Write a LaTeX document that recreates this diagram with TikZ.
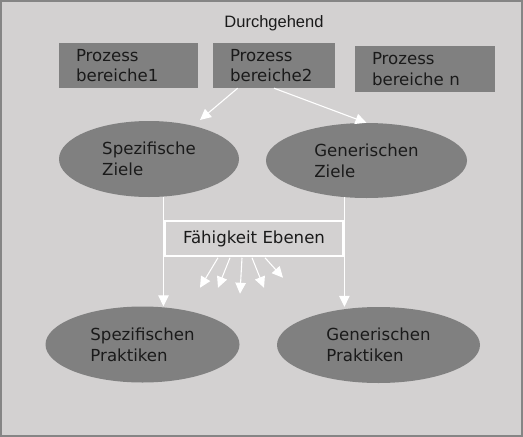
\documentclass[tikz,border=0pt]{standalone}
\usepackage{fontspec}
\setmainfont{DejaVu Sans}
\newfontfamily\arialf{Liberation Sans}
\usetikzlibrary{shapes.geometric,arrows.meta,calc}
\definecolor{bg}{HTML}{D3D1D1}
\definecolor{boxg}{HTML}{808080}
\definecolor{frameg}{HTML}{858585}
\definecolor{txt}{HTML}{1A1A1A}
\begin{document}
\begin{tikzpicture}[x=1pt,y=-1pt,
  pbox/.style={rectangle,fill=boxg,inner sep=0pt,inner xsep=17pt,align=left,text=txt,font=\fontsize{16.6}{20.5}\selectfont},
  oval/.style={ellipse,fill=boxg,inner sep=0pt,align=left,text=txt,font=\fontsize{16.6}{21}\selectfont},
  arr/.style={draw=white,line width=1.1pt,-{Triangle[length=11pt,width=10.5pt]}}]
\useasboundingbox (0,0) rectangle (523,437);
\draw[draw=frameg,fill=bg,line width=2pt] (1,1) rectangle (522,436);
\node[anchor=base,text=txt,font=\arialf\fontsize{16.5}{20}\selectfont] (title) at (274,27) {Durchgehend};
\node[pbox,minimum width=139pt,minimum height=45pt,text width=105pt] (b1) at (128.5,65.5) {Prozess\\bereiche1};
\node[pbox,minimum width=122pt,minimum height=45pt,text width=88pt] (b2) at (274,65.5) {Prozess\\bereiche2};
\node[pbox,minimum width=140pt,minimum height=46pt,text width=106pt] (b3) at (425,69) {Prozess\\bereiche n};
\node[oval,minimum width=180pt,minimum height=76pt] (sz) at (149,159) {Spezifische\\Ziele};
\node[oval,minimum width=201pt,minimum height=75pt] (gz) at (366.5,160.5) {Generischen\\Ziele};
\node[oval,minimum width=194pt,minimum height=76pt] (sp) at (142.5,344.5) {Spezifischen\\Praktiken};
\node[oval,minimum width=203pt,minimum height=76pt] (gp) at (378.5,345) {Generischen\\Praktiken};
\node[draw=white,line width=1.5pt,minimum width=178pt,minimum height=35pt,inner sep=0pt,text=txt,font=\fontsize{16.6}{20}\selectfont] (fe) at (254,238.5) {Fähigkeit Ebenen};
\draw[arr] (b2.-148) -- ($(sz.center)+(51,-39)$);
\draw[arr] (b2.south) -- (gz.north);
\draw[arr] (sz.-69.5) -- (sz.-69.5 |- sp.north);
\draw[arr] (gz.-121) -- (gz.-121 |- gp.north);
\coordinate (e1) at ($(fe.south)+(-54,31)$);
\coordinate (e2) at ($(fe.south)+(-36,31)$);
\coordinate (e3) at ($(fe.south)+(-14,37)$);
\coordinate (e4) at ($(fe.south)+(10,31)$);
\coordinate (e5) at ($(fe.south)+(29,21)$);
\draw[arr] ($(fe.south)+(-36,1)$) -- (e1);
\draw[arr] ($(fe.south)+(-24,1)$) -- (e2);
\draw[arr] ($(fe.south)+(-12,1)$) -- (e3);
\draw[arr] ($(fe.south)+(-2,1)$) -- (e4);
\draw[arr] ($(fe.south)+(11,1)$) -- (e5);
\end{tikzpicture}
\end{document}
